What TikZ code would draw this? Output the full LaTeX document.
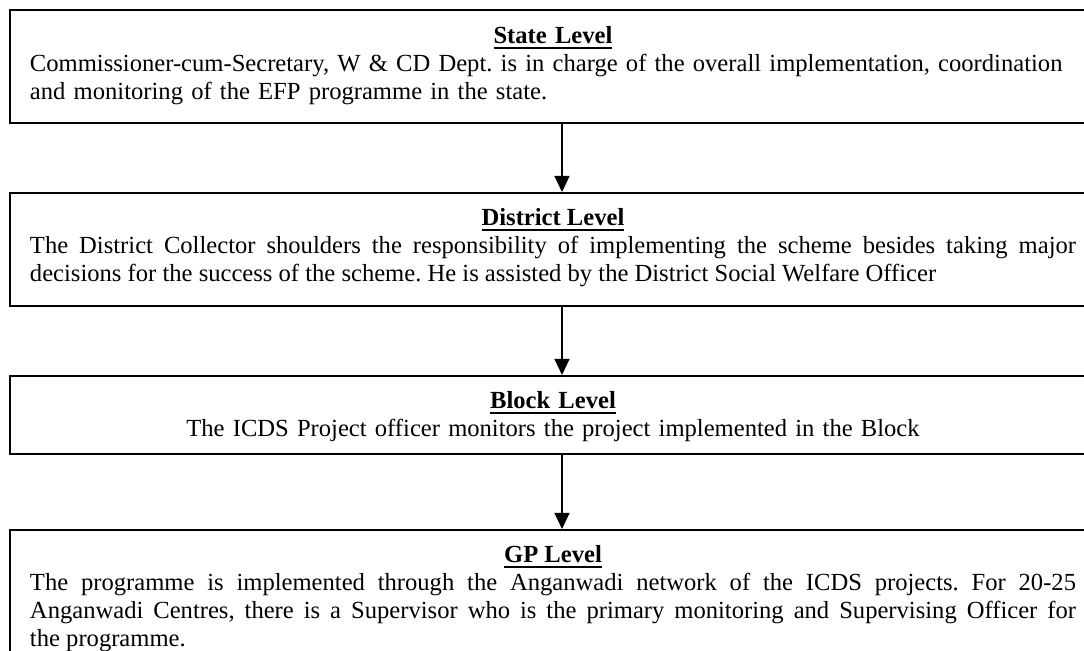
\documentclass[tikz,border=0pt]{standalone}
\usepackage{fontspec}
\setmainfont{Liberation Serif}
\usetikzlibrary{arrows.meta,positioning}

% bold box heading, centred on the line, with a heavy underline;
% the optional argument is the room kept above its baseline
\newcommand{\lvlhead}[2][16.5pt]{%
  \makebox[\linewidth]{\rule{0pt}{#1}\setbox0\hbox{\bfseries #2}\rlap{\rule[-2.6pt]{\wd0}{1.3pt}}\box0}\par}
% room kept below the last baseline of a box
\newcommand{\lvlfoot}[1]{\rule[-#1]{0pt}{#1}}

\begin{document}
\begin{tikzpicture}[
  x=0.5pt, y=-0.5pt,
  node distance=34pt,
  every node/.style={font=\fontsize{12.3pt}{14pt}\selectfont\frenchspacing},
  lvlbox/.style={draw, line width=1pt, text width=523pt, inner xsep=10pt, inner ysep=0pt},
  arr/.style={-{Triangle[length=8pt, width=7.5pt]}, line width=0.6pt},
]
  \clip (0,0) rectangle (1084,651);

  \node[lvlbox, align=left, anchor=north west] (state) at (9,9)
    {\lvlhead[17pt]{State Level}Commissioner-cum-Secretary, W \& CD Dept. is in charge of the overall implementation, coordination\\
     and monitoring of the EFP programme in the state.\lvlfoot{11.5pt}};
  \node[lvlbox, align=justify, below=of state] (district)
    {\lvlhead{District Level}The District Collector shoulders the responsibility of implementing the scheme besides taking major\linebreak
     decisions for the success of the scheme. He is assisted by the District Social Welfare Officer\lvlfoot{12pt}};
  \node[lvlbox, align=center, below=of district] (block)
    {\lvlhead{Block Level}The ICDS Project officer monitors the project implemented in the Block\lvlfoot{8.5pt}};
  \node[lvlbox, align=justify, below=37pt of block] (gp)
    {\lvlhead{GP Level}The programme is implemented through the Anganwadi network of the ICDS projects. For 20-25\linebreak
     Anganwadi Centres, there is a Supervisor who is the primary monitoring and Supervising Officer for\linebreak
     the programme.\lvlfoot{8.5pt}};

  % reporting chain, top to bottom
  \draw[arr] ([xshift=4.5pt]state.south) -- ([xshift=4.5pt]district.north);
  \draw[arr] ([xshift=4.5pt]district.south) -- ([xshift=4.5pt]block.north);
  \draw[arr] ([xshift=4.5pt]block.south) -- ([xshift=4.5pt]gp.north);
\end{tikzpicture}
\end{document}
